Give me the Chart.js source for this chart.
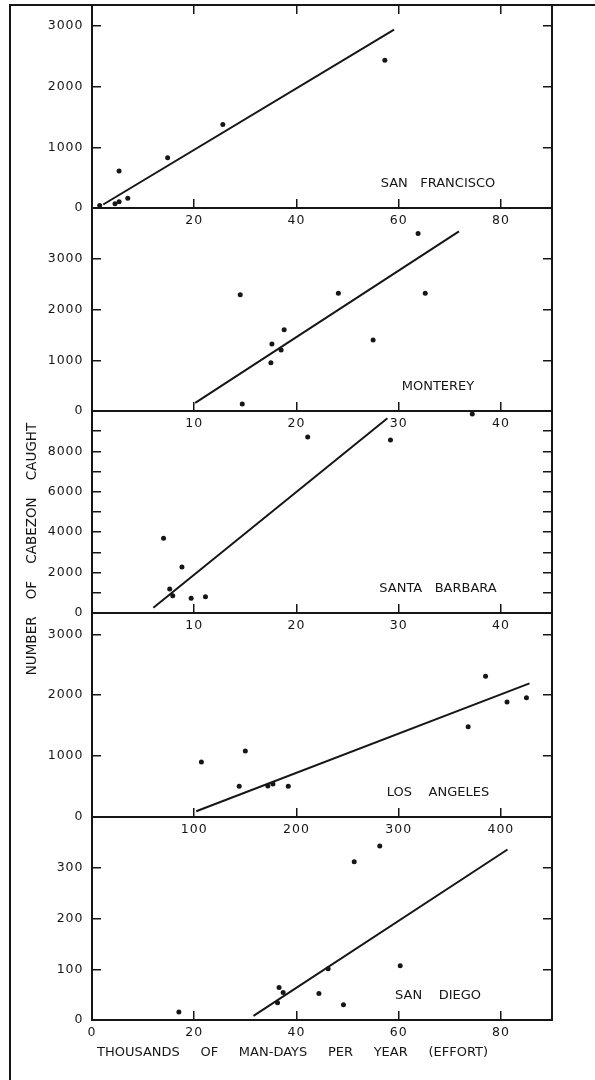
<!DOCTYPE html>
<html>
<head>
<meta charset="utf-8">
<script src="https://cdn.jsdelivr.net/npm/chart.js@4.4.1/dist/chart.umd.min.js"></script>
<style>
  html, body { margin: 0; padding: 0; background: #ffffff; }
  #sheet { position: relative; width: 595px; height: 1080px; overflow: hidden; background: #ffffff; }
  #sheet canvas { position: absolute; left: 0; top: 0; }
  #frame { position: absolute; left: 9px; top: 4px; right: -10px; bottom: -10px;
           border-left: 2px solid #161616; border-top: 2px solid #161616; }
</style>
</head>
<body>
<div id="sheet"><div id="frame"></div></div>
<script>
// ---- Catch of cabezon against fishing effort, by port ----
const panelNames = ['SAN   FRANCISCO', 'MONTEREY', 'SANTA   BARBARA', 'LOS    ANGELES', 'SAN    DIEGO'];

// San Francisco (thousands of man-days, fish caught)
const sfEffort = [1.5, 4.5, 5.3, 5.3, 7.0, 14.8, 25.6, 57.3];
const sfCatch  = [40, 70, 105, 610, 160, 830, 1380, 2440];
const sfFitEffort = [2.2, 59.1];
const sfFitCatch  = [58, 2945];

// Monterey
const moEffort = [14.5, 14.7, 17.5, 17.6, 18.5, 18.8, 24.1, 27.5, 31.9, 32.6];
const moCatch  = [2290, 140, 950, 1320, 1200, 1600, 2320, 1400, 3500, 2320];
const moFitEffort = [10.1, 35.9];
const moFitCatch  = [160, 3540];

// Santa Barbara
const sbEffort = [7.0, 7.6, 7.9, 8.8, 9.7, 11.1, 21.1, 29.2, 37.2];
const sbCatch  = [3700, 1190, 860, 2280, 730, 810, 8710, 8560, 9850];
const sbFitEffort = [6.0, 28.9];
const sbFitCatch  = [260, 9640];

// Los Angeles
const laEffort = [107, 144, 150, 172, 177, 192, 368, 385, 406, 425];
const laCatch  = [905, 505, 1085, 510, 540, 505, 1480, 2310, 1890, 1960];
const laFitEffort = [102, 428];
const laFitCatch  = [95, 2195];

// San Diego
const sdEffort = [17.0, 36.3, 36.6, 37.4, 44.4, 46.2, 49.2, 51.3, 56.3, 60.3];
const sdCatch  = [16, 34, 64, 54, 52, 101, 30, 312, 343, 107];
const sdFitEffort = [31.6, 81.3];
const sdFitCatch  = [8, 336];

// Axis extents and tick spacing per panel
const effortMax      = [90, 45, 45, 450, 90];
const effortStep     = [20, 10, 10, 100, 20];
const catchMax       = [3350, 4000, 10000, 3350, 400];
const catchStep      = [1000, 1000, 1000, 1000, 100];
const catchLabelStep = [1000, 1000, 2000, 1000, 100];

const xTitle = 'THOUSANDS     OF     MAN-DAYS     PER     YEAR     (EFFORT)';
const yTitle = 'NUMBER    OF    CABEZON    CAUGHT';

// ---- layout ----
const INK = '#161616';
const PAGE_W = 595, PAGE_H = 1080;
const PLOT_LEFT = 92, PLOT_RIGHT = 552;
const X_LABEL_BAND = 26;
const panelTop    = [5, 208, 411, 613, 817];
const panelBottom = [208, 411, 613, 817, 1020];

Chart.defaults.font.family = '"DejaVu Sans", sans-serif';
Chart.defaults.color = INK;

const toXY = (xs, ys) => xs.map((x, k) => ({ x: x, y: ys[k] }));

// Evenly spaced tick values from 0 up to the axis top
function stepTicks(scale, step, top) {
  const list = [];
  for (let k = 0; k * step <= top + 1e-9; k++) list.push({ value: k * step });
  scale.ticks = list;
}
// Keep label padding from pushing the plot area around
function noEdgePadding(scale) {
  scale.paddingTop = 0; scale.paddingBottom = 0;
  scale.paddingLeft = 0; scale.paddingRight = 0;
}

// Wide lettering for tick numerals, plain lettering for names and titles
const lettering = {
  id: 'lettering',
  beforeDraw(chart) { chart.ctx.letterSpacing = '1px'; },
  afterDraw(chart, args, opts) {
    const { ctx, chartArea } = chart;
    ctx.save();
    ctx.letterSpacing = '0px';
    ctx.fillStyle = INK;
    ctx.font = '13px "DejaVu Sans", sans-serif';
    ctx.textBaseline = 'middle';
    ctx.textAlign = 'center';
    ctx.fillText(opts.name, chartArea.right - 114, chartArea.bottom - 24.5);
    if (opts.axisTitles) {
      ctx.textAlign = 'left';
      ctx.fillText(xTitle, chartArea.left + 5, chartArea.bottom + 33);
      ctx.save();
      ctx.translate(chartArea.left - 60, 549);
      ctx.rotate(-Math.PI / 2);
      ctx.textAlign = 'center';
      ctx.font = '13.5px "DejaVu Sans", sans-serif';
      ctx.fillText(yTitle, 0, 0);
      ctx.restore();
    }
    ctx.restore();
  }
};

const sheet = document.getElementById('sheet');

function makePanel(i, effort, caught, fitEffort, fitCatch) {
  const canvas = document.createElement('canvas');
  canvas.width = PAGE_W; canvas.height = PAGE_H;
  canvas.style.width = PAGE_W + 'px'; canvas.style.height = PAGE_H + 'px';
  sheet.appendChild(canvas);

  const grid = { drawOnChartArea: false, drawTicks: true, tickLength: -9, lineWidth: 1.5, color: INK };
  const border = { display: true, width: 2, color: INK };
  const tickFont = { size: 12.5, family: '"DejaVu Sans", sans-serif' };

  const scales = {
    x: {
      type: 'linear', position: 'bottom', min: 0, max: effortMax[i], grid: grid, border: border,
      ticks: {
        autoSkip: false, maxRotation: 0, padding: 14, color: INK, font: tickFont,
        callback: v => (v === 0 && i < 4) ? '' : String(v)
      },
      afterBuildTicks: s => stepTicks(s, effortStep[i], effortMax[i]),
      afterFit: s => { s.height = X_LABEL_BAND; noEdgePadding(s); }
    },
    y: {
      type: 'linear', position: 'left', min: 0, max: catchMax[i], grid: grid, border: border,
      ticks: {
        autoSkip: false, padding: 17.5, color: INK, font: tickFont,
        callback: v => (v >= catchMax[i] || v % catchLabelStep[i] !== 0) ? '' : String(v)
      },
      afterBuildTicks: s => stepTicks(s, catchStep[i], catchMax[i]),
      afterFit: s => { s.width = PLOT_LEFT - 10; noEdgePadding(s); }
    },
    yr: {
      type: 'linear', position: 'right', min: 0, max: catchMax[i], grid: grid, border: border,
      ticks: { display: false, autoSkip: false },
      afterBuildTicks: s => stepTicks(s, catchStep[i], catchMax[i]),
      afterFit: s => { s.width = 0; noEdgePadding(s); }
    }
  };
  if (i === 0) {
    scales.xt = {
      type: 'linear', position: 'top', min: 0, max: effortMax[i], grid: grid, border: border,
      ticks: { display: false, autoSkip: false },
      afterBuildTicks: s => stepTicks(s, effortStep[i], effortMax[i]),
      afterFit: s => { s.height = 0; noEdgePadding(s); }
    };
  }

  return new Chart(canvas, {
    type: 'scatter',
    data: {
      datasets: [
        {
          data: toXY(effort, caught), xAxisID: 'x', yAxisID: 'y',
          showLine: false, pointRadius: 2.5, pointHoverRadius: 2.5,
          pointBackgroundColor: INK, pointBorderWidth: 0, borderColor: INK
        },
        {
          data: toXY(fitEffort, fitCatch), xAxisID: 'x', yAxisID: 'y',
          showLine: true, borderColor: INK, borderWidth: 2, pointRadius: 0, tension: 0
        }
      ]
    },
    options: {
      responsive: false, animation: false, events: [],
      layout: { padding: {
        left: 10, right: PAGE_W - PLOT_RIGHT,
        top: panelTop[i], bottom: PAGE_H - panelBottom[i] - X_LABEL_BAND
      } },
      scales: scales,
      plugins: {
        legend: { display: false }, tooltip: { enabled: false }, title: { display: false },
        lettering: { name: panelNames[i], axisTitles: i === 4 }
      }
    },
    plugins: [lettering]
  });
}

makePanel(0, sfEffort, sfCatch, sfFitEffort, sfFitCatch);
makePanel(1, moEffort, moCatch, moFitEffort, moFitCatch);
makePanel(2, sbEffort, sbCatch, sbFitEffort, sbFitCatch);
makePanel(3, laEffort, laCatch, laFitEffort, laFitCatch);
makePanel(4, sdEffort, sdCatch, sdFitEffort, sdFitCatch);
</script>
</body>
</html>
